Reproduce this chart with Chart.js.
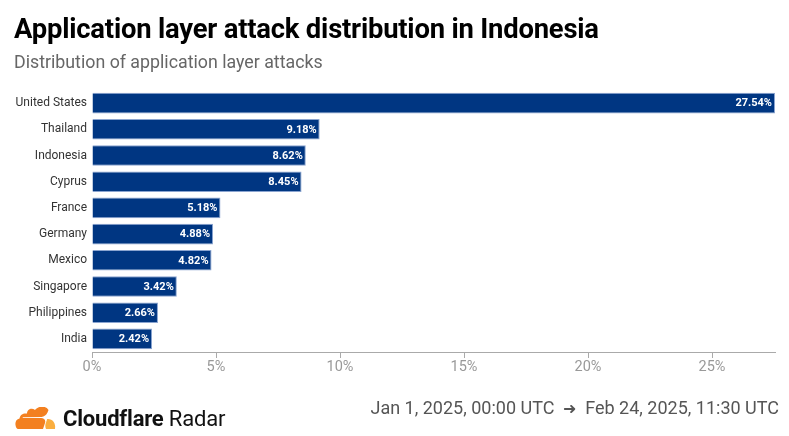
<!DOCTYPE html>
<html><head><meta charset="utf-8">
<script src="https://cdn.jsdelivr.net/npm/chart.js@4"></script>
<style>
html,body{margin:0;padding:0;background:#fff;width:789px;height:436px;overflow:hidden;font-family:Roboto,sans-serif}
#title{position:absolute;left:14px;top:13px;font-size:27.4px;font-weight:700;color:#000;letter-spacing:-0.2px}
#sub{position:absolute;left:14px;top:51px;font-size:17.8px;color:#666}
#wrap{position:absolute;left:0;top:0;width:789px;height:436px}
#brand{position:absolute;left:14px;top:406px;display:flex;align-items:center}
#brand span{font-size:22px;color:#111;margin-left:7px;letter-spacing:-0.2px}
#date{position:absolute;right:10px;top:397px;font-size:18px;color:#555}
</style></head><body>
<div id="wrap"><canvas id="c" width="789" height="436"></canvas></div>
<div id="title">Application layer attack distribution in Indonesia</div>
<div id="sub">Distribution of application layer attacks</div>
<div id="brand"><svg width="42" height="24" viewBox="0 0 42 24">
<path d="M29 22 L31 16 C32 13 30 11 27 11 L9 11 C8.5 11 8.5 10.3 9 10.2 L27.5 10 C30 9.8 32.5 8 33.5 5.5 L34.5 3 C31.5 -2 24 -1 21 3 C18 0.5 13 2 13 6.5 C9 6 6 8 5.5 11.5 C2.5 12 1 15 1.5 18 C1.8 20.5 3 22 4 22 Z" fill="#f38020"/>
<path d="M32 22 L41 22 C42 16 38.5 12 34 12 L33.2 12 L31.5 17 C31 19 31.5 21 32 22 Z" fill="#faae40"/>
</svg><span><b>Cloudflare</b> Radar</span></div>
<div id="date">Jan 1, 2025, 00:00 UTC &nbsp;<span style="font-size:16px">&#10140;</span>&nbsp; Feb 24, 2025, 11:30 UTC</div>
<script>
const categories = ["United States","Thailand","Indonesia","Cyprus","France","Germany","Mexico","Singapore","Philippines","India"];
const values = [27.54,9.18,8.62,8.45,5.18,4.88,4.82,3.42,2.66,2.42];
const xTicks = [0,5,10,15,20,25];

const labelPlugin = {
  id:'barLabels',
  afterDatasetsDraw(chart){
    const ctx = chart.ctx;
    const meta = chart.getDatasetMeta(0);
    ctx.save();
    ctx.font = 'bold 11px Roboto';
    ctx.fillStyle = '#fff';
    ctx.textAlign = 'right';
    ctx.textBaseline = 'middle';
    meta.data.forEach((bar,i)=>{
      ctx.fillText(values[i].toFixed(2)+'%', bar.x-3, bar.y+0.5);
    });
    ctx.restore();
  }
};

new Chart(document.getElementById('c'),{
  type:'bar',
  data:{labels:categories,datasets:[{data:values,backgroundColor:'#003682',borderColor:'#8aa4d0',borderWidth:1,borderSkipped:'start',barPercentage:0.785,categoryPercentage:1}]},
  options:{
    indexAxis:'y',responsive:false,animation:false,devicePixelRatio:1,
    layout:{padding:{left:0,right:14,top:90,bottom:54}},
    plugins:{legend:{display:false},tooltip:{enabled:false}},
    scales:{
      x:{min:0,max:27.54,
        afterFit(s){s.height=30;},
        afterBuildTicks(s){s.ticks=xTicks.map(v=>({value:v}));},
        grid:{display:true,drawOnChartArea:false,drawTicks:true,tickLength:6,color:'#aaa'},
        border:{display:true,color:'#aaa',width:1},
        ticks:{padding:1,color:'#999',font:{family:'Roboto',size:14.5},callback:v=>v+'%',maxRotation:0}
      },
      y:{
        afterFit(s){s.width=92;},
        grid:{display:false,drawTicks:false,tickLength:0},
        border:{display:false},
        ticks:{padding:5,color:'#333',font:{family:'Roboto',size:12}}
      }
    }
  },
  plugins:[labelPlugin]
});
</script>
</body></html>
